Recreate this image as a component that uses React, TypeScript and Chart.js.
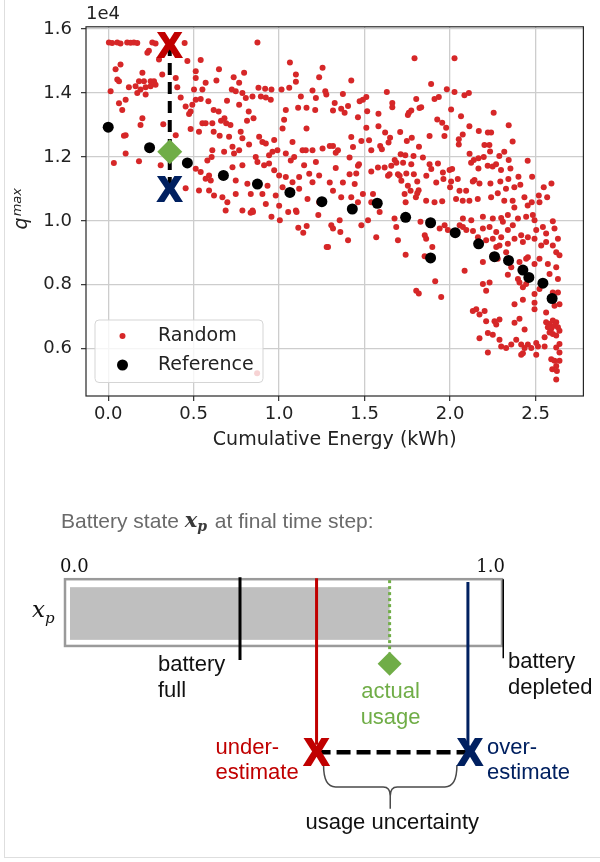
import { useEffect, useRef } from "react";
import { Chart, registerables } from "chart.js";

Chart.register(...registerables);

const SANS = "'DejaVu Sans', 'Liberation Sans', sans-serif";
const ARIAL = "'Liberation Sans', Arial, sans-serif";
const SERIF = "'DejaVu Serif', 'Liberation Serif', serif";

const RANDOM_COLOR = "#d62728";
const REFERENCE_COLOR = "#000000";
const UNDER_COLOR = "#c00000";
const OVER_COLOR = "#002060";
const ACTUAL_COLOR = "#70ad47";

// ---------- q^max against cumulative energy ----------
// [cumulative energy (kWh), q^max]
const randomRuns: [number, number][] = [
  [0.004, 15580], [0.023, 15560], [0.053, 15580], [0.072, 15550], [0.111, 15580], [0.131, 15570],
  [0.15, 15580], [0.17, 15560], [0.258, 15580], [0.277, 15550], [0.447, 15560], [0.873, 15580],
  [0.238, 15320], [0.229, 15260], [0.297, 15050], [0.463, 15000], [0.541, 15030], [0.072, 14890],
  [0.043, 14740], [0.2, 14630], [0.316, 14580], [0.053, 14420], [0.063, 14370], [0.18, 14370],
  [0.209, 14370], [0.248, 14370], [0.268, 14370], [0.121, 14180], [0.16, 14210], [0.189, 14110],
  [0.219, 14180], [0.248, 14210], [0.277, 14260], [0.395, 14470], [0.404, 14180], [0.014, 14050],
  [0.17, 14000], [0.219, 13950], [0.424, 13860], [0.512, 14470], [0.502, 14110], [0.551, 14110],
  [0.57, 14320], [0.512, 14680], [0.648, 14740], [0.734, 14490], [0.795, 14630], [0.766, 14320],
  [0.633, 14390], [0.723, 14110], [0.746, 14050], [0.785, 14000], [0.805, 13840], [0.879, 14160],
  [0.918, 14130], [0.955, 14110], [1.014, 14110], [0.844, 13890], [0.893, 13890], [0.922, 13860],
  [0.951, 13790], [1.063, 14950], [1.098, 14580], [1.098, 14350], [1.234, 14490], [1.254, 14790],
  [1.195, 14080], [1.27, 14050], [1.059, 14160], [1.127, 13890], [1.215, 13840], [0.063, 13680],
  [0.102, 13790], [0.082, 13470], [0.453, 13580], [0.492, 13630], [0.512, 13790], [0.541, 13810],
  [0.586, 13740], [0.617, 13470], [0.646, 13420], [0.695, 13760], [0.822, 13420], [0.85, 13210],
  [0.766, 13630], [0.68, 13210], [0.66, 13130], [0.69, 13050], [0.715, 13000], [0.812, 13130],
  [0.482, 13420], [0.473, 13340], [0.2, 13210], [0.189, 13000], [0.322, 13020], [0.551, 13050],
  [0.57, 13050], [0.609, 13050], [0.531, 12790], [0.482, 12870], [0.617, 12790], [0.652, 12660],
  [0.395, 12680], [0.102, 12680], [0.092, 12660], [0.707, 12630], [0.775, 12790], [0.785, 12580],
  [0.824, 12390], [0.883, 12630], [0.902, 12470], [0.922, 12420], [0.971, 12530], [1.02, 12890],
  [1.039, 13470], [1.029, 13160], [1.111, 13540], [1.16, 13540], [1.211, 13470], [1.16, 12890],
  [1.078, 12470], [1.137, 12210], [1.156, 12210], [1.195, 12210], [1.254, 12260], [0.727, 12320],
  [0.766, 12210], [0.609, 12210], [0.678, 12160], [0.736, 12110], [0.863, 12000], [0.941, 12050],
  [0.961, 12160], [0.99, 12210], [1.039, 12110], [1.088, 12000], [1.146, 11740], [1.215, 11840],
  [1.068, 11890], [0.102, 12110], [0.033, 11810], [0.18, 11860], [0.395, 12140], [0.307, 11740],
  [0.58, 11890], [0.605, 12000], [0.512, 11630], [0.541, 11530], [0.59, 11420], [0.727, 11680],
  [0.785, 11740], [0.873, 11840], [0.912, 11740], [0.941, 11790], [0.971, 11580], [1.0, 11420],
  [1.039, 11370], [1.078, 11210], [1.117, 11370], [1.176, 11470], [1.234, 11420], [1.195, 11210],
  [0.57, 11320], [0.6, 11260], [0.746, 11260], [0.814, 11160], [0.932, 11100], [1.02, 11050],
  [1.117, 11000], [0.453, 11020], [0.531, 10950], [0.59, 10950], [0.619, 10790], [0.668, 10740],
  [0.746, 10840], [0.697, 10580], [0.834, 10840], [0.902, 10840], [0.98, 10790], [0.844, 10320],
  [0.922, 10530], [1.0, 10470], [1.098, 10320], [1.166, 10680], [1.234, 10580], [0.785, 10320],
  [0.687, 10320],
  [1.792, 15090], [2.026, 15090], [1.422, 14390], [1.63, 14030], [1.889, 14280], [1.981, 14120],
  [2.026, 14030], [2.084, 13930], [2.11, 14000], [1.802, 13810], [1.831, 13550], [1.821, 13530],
  [1.909, 13810], [1.934, 13870], [1.662, 13690], [1.662, 13550], [1.51, 13870], [1.49, 13790],
  [1.471, 13740], [1.373, 13970], [1.325, 13690], [1.315, 13450], [1.363, 13510], [1.383, 13380],
  [1.403, 13590], [1.276, 13950], [1.461, 13240], [1.515, 13430], [1.581, 13350], [1.759, 13380],
  [1.753, 13310], [1.773, 13450], [1.925, 13170], [1.954, 13070], [1.977, 12910], [1.967, 12650],
  [1.88, 12650], [2.006, 13480], [2.064, 13270], [2.113, 12960], [2.074, 12700], [2.051, 12550],
  [2.051, 12390], [2.168, 12810], [2.221, 12760], [2.24, 12760], [2.255, 13380], [2.343, 12990],
  [2.366, 12480], [2.201, 12370], [2.23, 12370], [2.234, 12170], [1.51, 12910], [1.422, 12620],
  [1.481, 12500], [1.526, 12520], [1.581, 12960], [1.62, 12760], [1.649, 12600], [1.64, 12450],
  [1.708, 12780], [1.747, 12500], [1.776, 12600], [1.818, 12320], [1.591, 12340], [1.601, 12240],
  [1.539, 12210], [1.296, 12340], [1.315, 12340], [1.331, 12130], [1.344, 12210], [1.432, 12310],
  [1.412, 11980], [1.467, 11770], [1.461, 11720], [1.331, 11650], [1.412, 11460], [1.451, 11480],
  [1.539, 11540], [1.578, 11670], [1.617, 11670], [1.646, 11460], [1.637, 11410], [1.656, 11720],
  [1.676, 11900], [1.686, 11820], [1.711, 12080], [1.738, 12050], [1.725, 11820], [1.695, 11460],
  [1.715, 11250], [1.744, 11480], [1.705, 11410], [1.786, 12030], [1.841, 11980], [1.773, 11770],
  [1.788, 11460], [1.861, 11410], [1.88, 11770], [1.929, 11790], [1.89, 11620], [1.958, 11510],
  [1.997, 11590], [2.012, 11620], [1.961, 11310], [2.006, 11230], [2.045, 11310], [2.0, 11050],
  [2.055, 10940], [1.919, 11200], [1.808, 11230], [1.816, 10960], [1.769, 10940], [1.808, 10860],
  [1.753, 11100], [1.734, 10840], [2.123, 11820], [2.139, 11900], [2.166, 11960], [2.197, 12000],
  [2.114, 12100], [2.166, 11640], [2.22, 11720], [2.249, 11700], [2.269, 11770], [2.298, 11590],
  [2.288, 12030], [2.317, 12160], [2.343, 11900], [2.353, 11640], [2.143, 11280], [2.133, 11230],
  [2.172, 11170], [2.236, 11170], [2.294, 11230], [2.341, 11310], [2.4, 11380], [2.454, 11880],
  [2.48, 11380], [2.411, 11130], [2.376, 11050], [2.327, 11000], [2.279, 10860], [2.24, 10740],
  [2.162, 10680], [2.094, 10940], [2.035, 10680], [2.074, 10630], [2.113, 10630], [2.548, 11050],
  [2.593, 11170], [2.519, 10790], [2.568, 10740], [2.435, 10740], [2.478, 10580], [2.523, 10580],
  [2.454, 10480], [2.366, 10630], [2.317, 10630], [2.376, 10420], [1.86, 10630], [1.909, 10580],
  [1.954, 10610], [1.8, 10740], [1.74, 10580], [1.422, 10740], [1.461, 10580], [1.49, 10840],
  [1.549, 10840], [1.539, 10580], [1.363, 10740], [1.373, 11200], [1.296, 11200], [1.315, 10940],
  [1.442, 11150],
  [0.833, 10250], [0.847, 10280], [0.955, 10130], [1.004, 10020], [1.053, 10280], [1.102, 10280],
  [1.229, 10180], [1.112, 9780], [1.161, 9840], [1.141, 9630], [1.278, 9180], [0.871, 5230],
  [1.305, 9860], [1.315, 9760], [1.358, 9650], [1.354, 10020], [1.403, 9390], [1.286, 9180],
  [1.481, 9860], [1.52, 10020], [1.568, 9490], [1.588, 10280], [1.675, 10070], [1.685, 9810],
  [1.695, 9390], [1.74, 8940], [1.827, 9970], [1.852, 9550], [1.86, 9440], [1.896, 9180],
  [1.851, 8890], [1.913, 8110], [1.802, 7810], [1.817, 7730], [1.948, 7620], [1.968, 9860],
  [1.939, 9760], [1.987, 9710], [2.056, 9860], [2.075, 9810], [2.095, 9710], [2.134, 9680],
  [2.192, 9760], [2.231, 9810], [2.27, 9650], [2.309, 9970], [2.338, 9710], [2.367, 9860],
  [2.397, 10070], [2.445, 10130], [2.484, 10180], [2.494, 10020], [2.504, 9710], [2.543, 9810],
  [2.562, 9600], [2.601, 9990], [2.611, 9760], [2.631, 9440], [2.075, 10070], [2.124, 10020],
  [2.192, 10130], [2.25, 10070], [2.299, 10090], [2.338, 10180], [2.163, 9490], [2.211, 9390],
  [2.25, 9440], [2.299, 9490], [2.27, 9180], [2.289, 9230], [2.338, 9280], [2.377, 9440],
  [2.416, 9550], [2.426, 9340], [2.455, 9490], [2.494, 9440], [2.533, 9230], [2.562, 9340],
  [2.601, 9230], [2.621, 9020], [2.64, 8920], [2.192, 8710], [2.085, 8440], [2.25, 8920],
  [2.279, 8810], [2.328, 9020], [2.338, 8310], [2.358, 8550], [2.406, 8710], [2.445, 8810],
  [2.455, 8860], [2.494, 8650], [2.523, 8810], [2.572, 8650], [2.582, 8340], [2.621, 8550],
  [2.631, 8180], [2.601, 7760], [2.631, 7760], [2.231, 8070], [2.192, 8020], [2.211, 7810],
  [2.397, 8180], [2.406, 8070], [2.426, 7920], [2.445, 8020], [2.494, 7710], [2.523, 7870],
  [2.562, 7130], [2.611, 7340], [2.64, 7390], [2.426, 7530], [2.494, 7440], [2.494, 7230],
  [2.377, 7390], [2.133, 7180], [2.153, 7230], [2.202, 7180], [2.172, 7070], [2.211, 6860],
  [2.26, 6860], [2.289, 6910], [2.27, 6760], [2.221, 6490], [2.25, 6440], [2.172, 6330],
  [2.377, 6810], [2.406, 6940], [2.436, 6600], [2.289, 6280], [2.299, 6070], [2.328, 6020],
  [2.358, 6130], [2.387, 6280], [2.416, 6130], [2.436, 6020], [2.455, 6130], [2.475, 6020],
  [2.504, 6180], [2.514, 6070], [2.553, 6070], [2.426, 5860], [2.504, 5810], [2.416, 5810],
  [2.221, 5880], [2.562, 6830], [2.582, 6770], [2.601, 6880], [2.621, 6830], [2.572, 6670],
  [2.592, 6620], [2.611, 6720], [2.631, 6670], [2.582, 6510], [2.601, 6460], [2.621, 6410],
  [2.64, 6560], [2.553, 6360], [2.64, 6150], [2.621, 6040], [2.64, 5880], [2.592, 5670],
  [2.611, 5620], [2.621, 5460], [2.598, 5360], [2.625, 5300], [2.621, 5040], [2.64, 5620],
];

const referenceRuns: [number, number][] = [
  [0.0, 12930], [0.242, 12290], [0.463, 11810], [0.674, 11420], [0.873, 11150], [1.063, 10890],
  [1.25, 10600], [1.428, 10370], [1.574, 10550], [1.74, 10110], [1.886, 9940], [1.886, 8840],
  [2.03, 9630], [2.167, 9280], [2.26, 8880], [2.342, 8760], [2.426, 8460], [2.461, 8230],
  [2.543, 8050], [2.597, 7570],
];

const estimateEnergy = 0.36;
const underEstimateQmax = 15530;
const actualQmax = 12160;
const overEstimateQmax = 11000;

const energyTicks = [0, 0.5, 1.0, 1.5, 2.0, 2.5];
const qmaxTicks = [6000, 8000, 10000, 12000, 14000, 16000];
const qmaxOffset = 1e4;

// ---------- battery state diagram ----------
const stateTicks = [0.0, 1.0];
const batteryFullState = 0.4;
const underEstimateState = 0.574;
const actualState = 0.74;
const overEstimateState = 0.918;
const depletedState = 1.0;

// vertical rows of the diagram, in canvas pixels from its top
const ROW = {
  heading: 53,
  scaleLabel: 101,
  barTop: 114,
  barBottom: 185,
  fillTop: 122.5,
  fillBottom: 178.5,
  lineTop: 113,
  lineBottom: 200,
  dottedBottom: 192,
  diamond: 204,
  cross: 298,
  braceTop: 312,
  braceMid: 335,
  braceTip: 358,
  caption: 373,
};

function drawMarkX(ctx: CanvasRenderingContext2D, px: number, py: number, color: string, size: number) {
  ctx.font = `bold ${size}px ${ARIAL}`;
  ctx.fillStyle = color;
  ctx.strokeStyle = color;
  ctx.lineWidth = 2.2;
  ctx.lineJoin = "miter";
  ctx.textAlign = "center";
  ctx.textBaseline = "alphabetic";
  ctx.fillText("X", px, py + size * 0.358);
  ctx.strokeText("X", px, py + size * 0.358);
}

const scatterDecor = {
  id: "scatterDecor",
  afterDatasetsDraw(chart: any) {
    const { ctx, chartArea: a, scales } = chart;
    const xs = scales.x;
    const ys = scales.y;
    ctx.save();

    // axes frame
    ctx.strokeStyle = "#262626";
    ctx.lineWidth = 1.2;
    ctx.strokeRect(a.left, a.top, a.right - a.left, a.bottom - a.top);

    // legend
    const lx = a.left + 9;
    const ly = a.bottom - 76;
    const lw = 168;
    const lh = 62.5;
    ctx.beginPath();
    ctx.roundRect(lx, ly, lw, lh, 4);
    ctx.fillStyle = "rgba(255,255,255,0.8)";
    ctx.fill();
    ctx.strokeStyle = "#d5d5d5";
    ctx.lineWidth = 1;
    ctx.stroke();
    const entries = [chart.data.datasets[3], chart.data.datasets[2]];
    entries.forEach((ds: any, i: number) => {
      const cy = ly + 16 + i * 29;
      ctx.beginPath();
      ctx.arc(lx + 27.5, cy, ds.pointRadius, 0, Math.PI * 2);
      ctx.fillStyle = ds.backgroundColor;
      ctx.fill();
      ctx.fillStyle = "#222";
      ctx.font = `19px ${SANS}`;
      ctx.textAlign = "left";
      ctx.textBaseline = "middle";
      ctx.fillText(ds.label, lx + 63, cy);
    });

    // estimate markers
    const px = xs.getPixelForValue(estimateEnergy);
    drawMarkX(ctx, px, ys.getPixelForValue(underEstimateQmax), UNDER_COLOR, 35);
    drawMarkX(ctx, px, ys.getPixelForValue(overEstimateQmax), OVER_COLOR, 35);
    ctx.restore();
  },
  afterDraw(chart: any) {
    const { ctx, chartArea: a } = chart;
    ctx.save();
    // offset of the y axis
    ctx.fillStyle = "#222";
    ctx.font = `18px ${SANS}`;
    ctx.textAlign = "left";
    ctx.textBaseline = "middle";
    ctx.fillText("1e" + Math.log10(qmaxOffset), a.left, 14);

    // y axis title q^max
    const mid = (a.top + a.bottom) / 2;
    ctx.translate(27, mid + 18);
    ctx.rotate(-Math.PI / 2);
    ctx.textBaseline = "alphabetic";
    ctx.font = `italic 19px ${SANS}`;
    ctx.fillText("q", 0, 0);
    const w = ctx.measureText("q").width;
    ctx.font = `italic 13px ${SANS}`;
    ctx.fillText("max", w + 1, -6);
    ctx.restore();
  },
};

function EnergyScatter() {
  const ref = useRef<HTMLCanvasElement>(null);
  useEffect(() => {
    const canvas = ref.current;
    if (!canvas) return;
    const chart = new Chart(canvas, {
      type: "scatter",
      data: {
        datasets: [
          {
            label: "actual",
            data: [{ x: estimateEnergy, y: actualQmax }],
            pointStyle: "rectRot",
            pointRadius: 12.5,
            backgroundColor: ACTUAL_COLOR,
            borderWidth: 0,
            order: 0,
          },
          {
            label: "estimate range",
            data: [
              { x: estimateEnergy, y: underEstimateQmax },
              { x: estimateEnergy, y: overEstimateQmax },
            ],
            showLine: true,
            borderColor: "#000",
            borderWidth: 4,
            borderDash: [12, 7],
            pointRadius: 0,
            order: 1,
          },
          {
            label: "Reference",
            data: referenceRuns.map(([x, y]) => ({ x, y })),
            backgroundColor: REFERENCE_COLOR,
            pointRadius: 5.5,
            borderWidth: 0,
            order: 2,
          },
          {
            label: "Random",
            data: randomRuns.map(([x, y]) => ({ x, y })),
            backgroundColor: RANDOM_COLOR,
            pointRadius: 3,
            borderWidth: 0,
            order: 3,
          },
        ],
      },
      options: {
        animation: false,
        responsive: false,
        devicePixelRatio: 1,
        events: [],
        layout: { padding: { left: 0, top: 26.8, right: 16.6, bottom: 0 } },
        plugins: { legend: { display: false }, tooltip: { enabled: false } },
        scales: {
          x: {
            type: "linear",
            min: -0.13,
            max: 2.78,
            afterFit: (s: any) => {
              s.height = 64;
            },
            afterBuildTicks: (s: any) => {
              s.ticks = energyTicks.map((value) => ({ value }));
            },
            ticks: {
              callback: (v: any) => Number(v).toFixed(1),
              font: { family: SANS, size: 18 },
              color: "#222",
              padding: 3,
              maxRotation: 0,
            },
            grid: { color: "#cdcdcd", lineWidth: 1.3, tickLength: 5, tickColor: "#333", tickWidth: 1.2 },
            border: { display: false },
            title: {
              display: true,
              text: "Cumulative Energy (kWh)",
              font: { family: SANS, size: 19 },
              color: "#222",
              padding: { top: 0, bottom: 9 },
            },
          },
          y: {
            type: "linear",
            min: 4520,
            max: 16070,
            afterFit: (s: any) => {
              s.width = 86;
            },
            afterBuildTicks: (s: any) => {
              s.ticks = qmaxTicks.map((value) => ({ value }));
            },
            ticks: {
              callback: (v: any) => (Number(v) / qmaxOffset).toFixed(1),
              font: { family: SANS, size: 18 },
              color: "#222",
              padding: 9,
            },
            grid: { color: "#cdcdcd", lineWidth: 1.3, tickLength: 5, tickColor: "#333", tickWidth: 1.2 },
            border: { display: false },
          },
        },
      },
      plugins: [scatterDecor],
    } as any);
    return () => chart.destroy();
  }, []);
  return (
    <canvas
      ref={ref}
      width={600}
      height={460}
      style={{ position: "absolute", left: 0, top: 0, width: 600, height: 460 }}
    />
  );
}

const diagramDecor = {
  id: "diagramDecor",
  beforeDatasetsDraw(chart: any) {
    const { ctx, scales } = chart;
    const xs = scales.x;
    const ys = scales.y;
    const x0 = xs.getPixelForValue(stateTicks[0]);
    const x1 = xs.getPixelForValue(stateTicks[1]);
    ctx.save();

    // heading
    ctx.textBaseline = "middle";
    ctx.textAlign = "left";
    let hx = 61;
    const hy = ys.getPixelForValue(ROW.heading);
    ctx.font = `21px ${ARIAL}`;
    ctx.fillStyle = "#6a6a6a";
    ctx.fillText("Battery state ", hx, hy);
    hx += ctx.measureText("Battery state ").width;
    ctx.font = `bold italic 21px ${SERIF}`;
    ctx.fillStyle = "#3a3a3a";
    ctx.fillText("x", hx, hy);
    hx += ctx.measureText("x").width;
    ctx.font = `bold italic 14px ${SERIF}`;
    ctx.fillText("p", hx, hy + 6);
    hx += ctx.measureText("p").width + 2;
    ctx.font = `21px ${ARIAL}`;
    ctx.fillStyle = "#6a6a6a";
    ctx.fillText(" at final time step:", hx, hy);

    // scale labels
    ctx.fillStyle = "#111";
    ctx.font = `18px ${SERIF}`;
    const sy = ys.getPixelForValue(ROW.scaleLabel);
    ctx.textAlign = "left";
    ctx.fillText(stateTicks[0].toFixed(1), x0 - 4, sy);
    ctx.textAlign = "right";
    ctx.fillText(stateTicks[1].toFixed(1), x1 + 1, sy);

    // x_p row label
    const rowMid = ys.getPixelForValue((ROW.barTop + ROW.barBottom) / 2);
    ctx.textAlign = "left";
    ctx.textBaseline = "alphabetic";
    ctx.font = `italic 23px ${SERIF}`;
    ctx.fillText("x", 32, rowMid + 4);
    const xw = ctx.measureText("x").width;
    ctx.font = `italic 15px ${SERIF}`;
    ctx.fillText("p", 32 + xw, rowMid + 10);

    // battery bar
    const top = ys.getPixelForValue(ROW.barTop);
    const bottom = ys.getPixelForValue(ROW.barBottom);
    ctx.fillStyle = "#bfbfbf";
    const ft = ys.getPixelForValue(ROW.fillTop);
    const fb = ys.getPixelForValue(ROW.fillBottom);
    ctx.fillRect(x0 + 6, ft, xs.getPixelForValue(actualState) - x0 - 6, fb - ft);
    ctx.strokeStyle = "#9a9a9a";
    ctx.lineWidth = 2.5;
    ctx.strokeRect(x0 + 1, top, x1 - x0 - 3, bottom - top);

    // brace below the estimate range
    const L = xs.getPixelForValue(underEstimateState) + 7;
    const R = xs.getPixelForValue(overEstimateState) - 11;
    const cx = (L + R) / 2;
    const bt = ys.getPixelForValue(ROW.braceTop);
    const bm = ys.getPixelForValue(ROW.braceMid);
    const tip = ys.getPixelForValue(ROW.braceTip);
    ctx.strokeStyle = "#4a4a4a";
    ctx.lineWidth = 1.5;
    ctx.beginPath();
    ctx.moveTo(L, bt);
    ctx.quadraticCurveTo(L, bm, L + 12, bm);
    ctx.lineTo(cx - 7, bm);
    ctx.quadraticCurveTo(cx, bm, cx, bm + 9);
    ctx.lineTo(cx, tip);
    ctx.moveTo(R, bt);
    ctx.quadraticCurveTo(R, bm, R - 12, bm);
    ctx.lineTo(cx + 7, bm);
    ctx.quadraticCurveTo(cx, bm, cx, bm + 9);
    ctx.stroke();
    ctx.restore();
  },
  afterDatasetsDraw(chart: any) {
    const { ctx, scales } = chart;
    const xs = scales.x;
    const ys = scales.y;
    ctx.save();
    const cy = ys.getPixelForValue(ROW.cross);
    drawMarkX(ctx, xs.getPixelForValue(underEstimateState), cy, UNDER_COLOR, 36);
    drawMarkX(ctx, xs.getPixelForValue(overEstimateState) + 2, cy, OVER_COLOR, 36);

    ctx.font = `22px ${ARIAL}`;
    ctx.textBaseline = "middle";
    const line = (text: string, x: number, y: number, color: string, align: CanvasTextAlign) => {
      ctx.fillStyle = color;
      ctx.textAlign = align;
      ctx.fillText(text, x, y);
    };
    const full = xs.getPixelForValue(batteryFullState);
    line("battery", full - 82, 205, "#111", "left");
    line("full", full - 82, 231, "#111", "left");
    const dep = xs.getPixelForValue(depletedState);
    line("battery", dep + 4, 202, "#111", "left");
    line("depleted", dep + 4, 228, "#111", "left");
    const act = xs.getPixelForValue(actualState);
    line("actual", act + 1, 232, ACTUAL_COLOR, "center");
    line("usage", act + 1, 258, ACTUAL_COLOR, "center");
    const und = xs.getPixelForValue(underEstimateState);
    line("under-", und - 101, 288, UNDER_COLOR, "left");
    line("estimate", und - 101, 313, UNDER_COLOR, "left");
    const ovr = xs.getPixelForValue(overEstimateState);
    line("over-", ovr + 19, 288, OVER_COLOR, "left");
    line("estimate", ovr + 19, 313, OVER_COLOR, "left");
    const L = xs.getPixelForValue(underEstimateState) + 7;
    const R = xs.getPixelForValue(overEstimateState) - 11;
    line("usage uncertainty", (L + R) / 2 + 2, ys.getPixelForValue(ROW.caption), "#111", "center");
    ctx.restore();
  },
};

function markerLine(value: number, top: number, bottom: number, color: string, width: number, dash: number[] = []) {
  return {
    data: [
      { x: value, y: top },
      { x: value, y: bottom },
    ],
    showLine: true,
    borderColor: color,
    borderWidth: width,
    borderDash: dash,
    borderCapStyle: "butt",
    pointRadius: 0,
  };
}

function BatteryDiagram() {
  const ref = useRef<HTMLCanvasElement>(null);
  useEffect(() => {
    const canvas = ref.current;
    if (!canvas) return;
    const chart = new Chart(canvas, {
      type: "scatter",
      data: {
        datasets: [
          {
            data: [{ x: actualState, y: ROW.diamond }],
            pointStyle: "rectRot",
            pointRadius: 12,
            backgroundColor: ACTUAL_COLOR,
            borderWidth: 0,
          },
          {
            data: [
              { x: underEstimateState, y: ROW.cross },
              { x: overEstimateState, y: ROW.cross },
            ],
            showLine: true,
            borderColor: "#000",
            borderWidth: 4.5,
            borderDash: [14, 6],
            pointRadius: 0,
          },
          markerLine(batteryFullState, ROW.lineTop - 1, ROW.lineBottom, "#000", 3),
          markerLine(underEstimateState, ROW.lineTop, ROW.cross - 8, UNDER_COLOR, 3),
          markerLine(actualState, ROW.lineTop + 2, ROW.dottedBottom, ACTUAL_COLOR, 3, [3, 3]),
          markerLine(overEstimateState, ROW.lineTop + 4, ROW.cross - 8, OVER_COLOR, 3),
          markerLine(depletedState, ROW.lineTop + 1, ROW.lineBottom - 2, "#000", 3),
        ],
      },
      options: {
        animation: false,
        responsive: false,
        devicePixelRatio: 1,
        events: [],
        layout: { padding: { left: 64, right: 96, top: 0, bottom: 0 } },
        plugins: { legend: { display: false }, tooltip: { enabled: false } },
        scales: {
          x: { type: "linear", min: 0, max: 1, display: false },
          y: { type: "linear", min: 0, max: 402, reverse: true, display: false },
        },
      },
      plugins: [diagramDecor],
    } as any);
    return () => chart.destroy();
  }, []);
  return (
    <canvas
      ref={ref}
      width={600}
      height={402}
      style={{ position: "absolute", left: 0, top: 460, width: 600, height: 402 }}
    />
  );
}

export default function App() {
  return (
    <div style={{ position: "absolute", left: 0, top: 0, width: 600, height: 862, background: "#fff", overflow: "hidden" }}>
      <EnergyScatter />
      <BatteryDiagram />
      <div
        style={{
          position: "absolute",
          left: 4,
          top: 0,
          width: 596,
          height: 857,
          borderLeft: "1px solid #dedede",
          borderBottom: "1px solid #dedede",
          pointerEvents: "none",
        }}
      />
    </div>
  );
}
